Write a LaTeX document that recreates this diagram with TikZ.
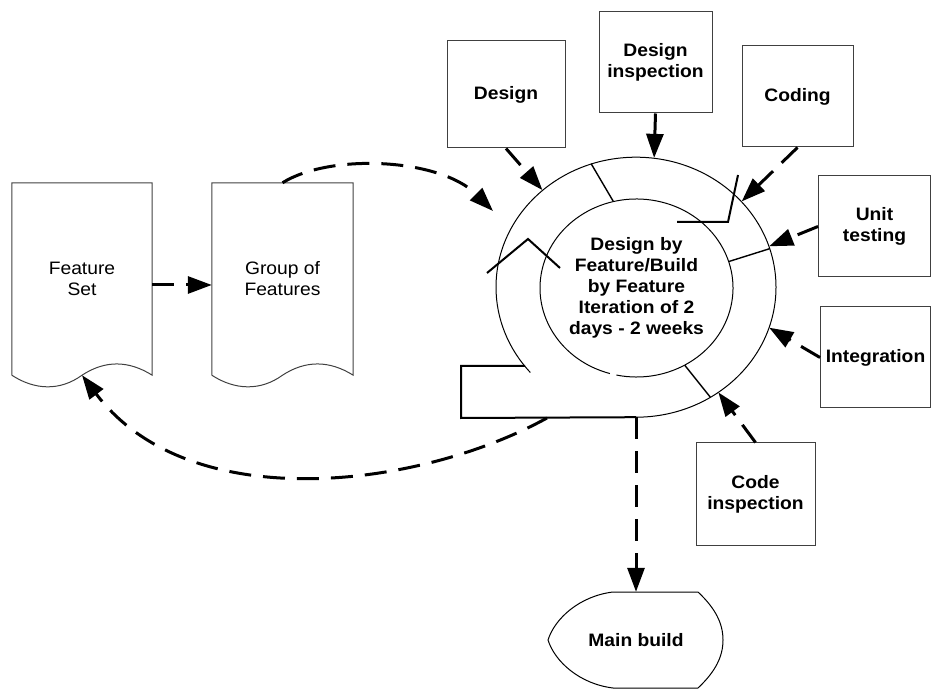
\documentclass[tikz,border=0pt]{standalone}
\usepackage{fontspec}
\setmainfont{Liberation Sans}[FakeStretch=1.07]
\usetikzlibrary{arrows.meta,shapes.geometric}
\tikzset{
    task-box/.style = {draw=black!75, line width=1pt, rectangle, minimum width=112pt, minimum height=101pt, inner sep=0pt, align=center, font=\fontsize{18}{21}\selectfont\bfseries},
    doc-page/.style = {rectangle, minimum width=140pt, minimum height=192pt, inner sep=0pt, align=center, font=\fontsize{18}{21}\selectfont},
    flow-arrow/.style = {line width=3pt, dash pattern=on 22pt off 12pt, -{Triangle[length=24pt,width=17pt]}},
    ring-line/.style = {line width=1pt},
    ring-mark/.style = {line width=2pt},
}

\begin{document}
\begin{tikzpicture}[x=1pt,y=1pt]
\useasboundingbox (0,0) rectangle (931,688);

\node[task-box, minimum width=118pt, minimum height=107pt] (design) at (506,593.5) {Design};
\node[task-box, minimum width=113pt] (dinsp) at (655.5,625.5) {Design\\inspection};
\node[task-box, minimum width=111pt] (coding) at (797.5,591.5) {Coding};
\node[task-box] (unit) at (874.5,461.5) {Unit\\testing};
\node[task-box, minimum width=110pt] (integ) at (875.5,330.5) {Integration};
\node[task-box, minimum width=119pt, minimum height=103pt] (cinsp) at (755.5,193.5) {Code\\inspection};

\node[doc-page] (fset) at (82,409) {Feature\\Set};
\node[doc-page, minimum width=141pt] (grp) at (282.5,409) {Group of\\Features};
\foreach \pg in {fset,grp}
    \draw[draw=black!75, line width=1pt] (\pg.south west) -- (\pg.north west) -- (\pg.north east) -- (\pg.south east)
        .. controls +(-24,15) and +(23,15) .. (\pg.south) .. controls +(-22,-16) and +(23,-15) .. (\pg.south west);

\node[ellipse, minimum width=280pt, minimum height=260pt, inner sep=0pt] (outer) at (636,401) {};
\node[ellipse, minimum width=193pt, minimum height=178pt, inner sep=0pt, align=center, font=\fontsize{18}{21}\selectfont\bfseries] (core) at (636.5,400) {Design by\\Feature/Build\\by Feature\\Iteration of 2\\days - 2 weeks};
\draw[ring-line] (outer.south) arc[start angle=-90, end angle=221, x radius=140pt, y radius=130pt];
\draw[ring-line] ([shift={(258:96.5pt and 89pt)}]core.center) arc[start angle=258, end angle=614, x radius=96.5pt, y radius=89pt];
\draw[line width=1.4pt] (outer.110) -- (core.105);
\draw[line width=1.4pt] (outer.16) -- (core.16);
\draw[line width=1.4pt] (outer.-56) -- (core.-58);
\draw[ring-mark] (525,322) -- (461,322) -- (461,270) -- (outer.south);
\draw[ring-mark] (487,415) -- (528,449) -- (560,420);
\draw[ring-mark] (677,466) -- (728,466) -- (738,513);

\node[minimum width=175pt, minimum height=96pt, inner sep=0pt, font=\fontsize{18}{21}\selectfont\bfseries] (build) at (636,48) {Main build};
\draw[ring-line] (613,96) -- (698,96) .. controls (715,80) and (723,65) .. (723,48) .. controls (723,31) and (715,16) .. (698,0)
    -- (613,0) .. controls (580,4) and (555,26) .. (548,48) .. controls (555,70) and (580,92) .. (613,96);

\coordinate (loop-in) at (493,477);
\coordinate (loop-out) at (547,270);

\draw[flow-arrow] (design.south) -- (outer.134);
\draw[flow-arrow, solid] (dinsp.south) -- (outer.82);
\draw[flow-arrow] (coding.south) -- (outer.39);
\draw[flow-arrow] (unit.west) -- (outer.17);
\draw[flow-arrow] (integ.west) -- (outer.-17);
\draw[flow-arrow] (cinsp.north) -- (outer.-52);
\draw[flow-arrow] ([yshift=-6pt]fset.east) -- ([yshift=-6pt]grp.west);
\draw[flow-arrow] (grp.north) .. controls (330,535) and (440,530) .. (loop-in);
\draw[flow-arrow] (loop-out) .. controls (420,200) and (190,170) .. (fset.south);
\draw[flow-arrow] (outer.south) -- (build.north);
\end{tikzpicture}
\end{document}
